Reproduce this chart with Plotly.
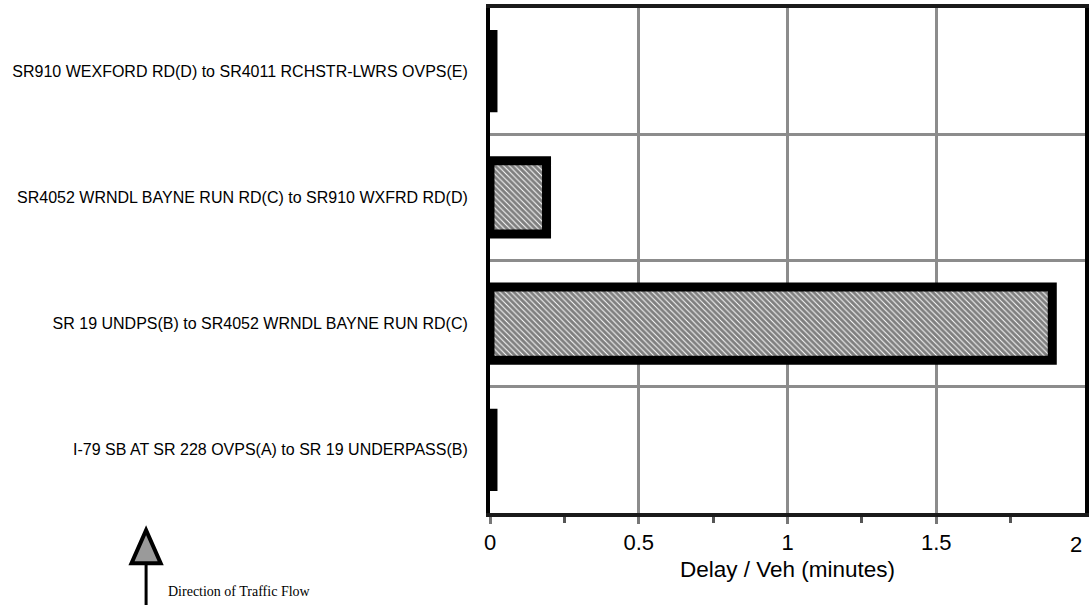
import plotly.graph_objects as go

segments = [
    "I-79 SB AT SR 228 OVPS(A) to SR 19 UNDERPASS(B)",
    "SR 19 UNDPS(B) to SR4052 WRNDL BAYNE RUN RD(C)",
    "SR4052 WRNDL BAYNE RUN RD(C) to SR910 WXFRD RD(D)",
    "SR910 WEXFORD RD(D) to SR4011 RCHSTR-LWRS OVPS(E)",
]
delay_min = [0.01, 1.89, 0.19, 0.01]
x_ticks = [0, 0.5, 1, 1.5, 2]
x_ticktext = ["0", "0.5", "1", "1.5", "2"]
positions = list(range(len(segments)))

fig = go.Figure()
fig.add_trace(go.Bar(
    x=delay_min, y=positions, orientation="h", width=0.58,
    marker=dict(
        color="#808080",
        line=dict(color="black", width=9),
        pattern=dict(shape="\\", fgcolor="black", bgcolor="white", size=4, solidity=0.75),
    ),
    showlegend=False,
))

fig.update_layout(
    width=1091, height=605,
    margin=dict(l=490, r=6, t=8, b=92, autoexpand=False),
    plot_bgcolor="white", paper_bgcolor="white",
    font=dict(family="Arial, Liberation Sans, sans-serif", color="black"),
)
# last tick label sits at the right edge; it is drawn right-aligned to stay inside the page
fig.update_xaxes(
    range=[0, 2], tickvals=x_ticks[:-1], ticktext=x_ticktext[:-1], automargin=False,
    tickfont=dict(size=22), ticks="outside", ticklen=7, tickwidth=3, tickcolor="#777",
    showgrid=True, gridcolor="#8c8c8c", gridwidth=3,
    showline=True, linecolor="#1a1a1a", linewidth=4, mirror=True,
    minor=dict(tick0=0.25, dtick=0.5, ticks="outside", ticklen=6, tickwidth=3, tickcolor="#555", showgrid=False),
    title=dict(text="Delay / Veh (minutes)", font=dict(size=22.5), standoff=8),
    zeroline=False,
)
fig.add_annotation(
    xref="x", yref="paper", x=x_ticks[-1], y=-0.0614, xanchor="right", yanchor="middle",
    text=x_ticktext[-1], showarrow=False, xshift=-1, font=dict(size=22),
)
fig.update_yaxes(
    range=[-0.5, 3.5], tickvals=positions, ticktext=segments, automargin=False,
    tickfont=dict(size=16), ticks="", ticklabelstandoff=15,
    showgrid=False,
    minor=dict(tick0=0.5, dtick=1, showgrid=True, gridcolor="#8c8c8c", gridwidth=3, ticks=""),
    showline=True, linecolor="black", linewidth=4, mirror=True,
    zeroline=False,
)

# Direction of traffic flow marker
fig.add_shape(type="line", xref="paper", yref="paper",
              x0=-0.578, x1=-0.578, y0=-0.1028, y1=-0.2,
              line=dict(color="black", width=3))
fig.add_shape(type="path", xref="paper", yref="paper",
              path="M -0.6025 -0.0995 L -0.5535 -0.0995 L -0.578 -0.034 Z",
              fillcolor="#9a9a9a", line=dict(color="black", width=4))
fig.add_annotation(
    xref="paper", yref="paper", x=-0.5445, y=-0.156, xanchor="left", yanchor="middle",
    text="Direction of Traffic Flow", showarrow=False,
    font=dict(family="Liberation Serif, Times New Roman, serif", size=14),
)

fig.write_html(
    "out.html",
    config={"displayModeBar": False},
    post_script="document.body.style.margin='0';document.body.style.overflow='hidden';",
)
